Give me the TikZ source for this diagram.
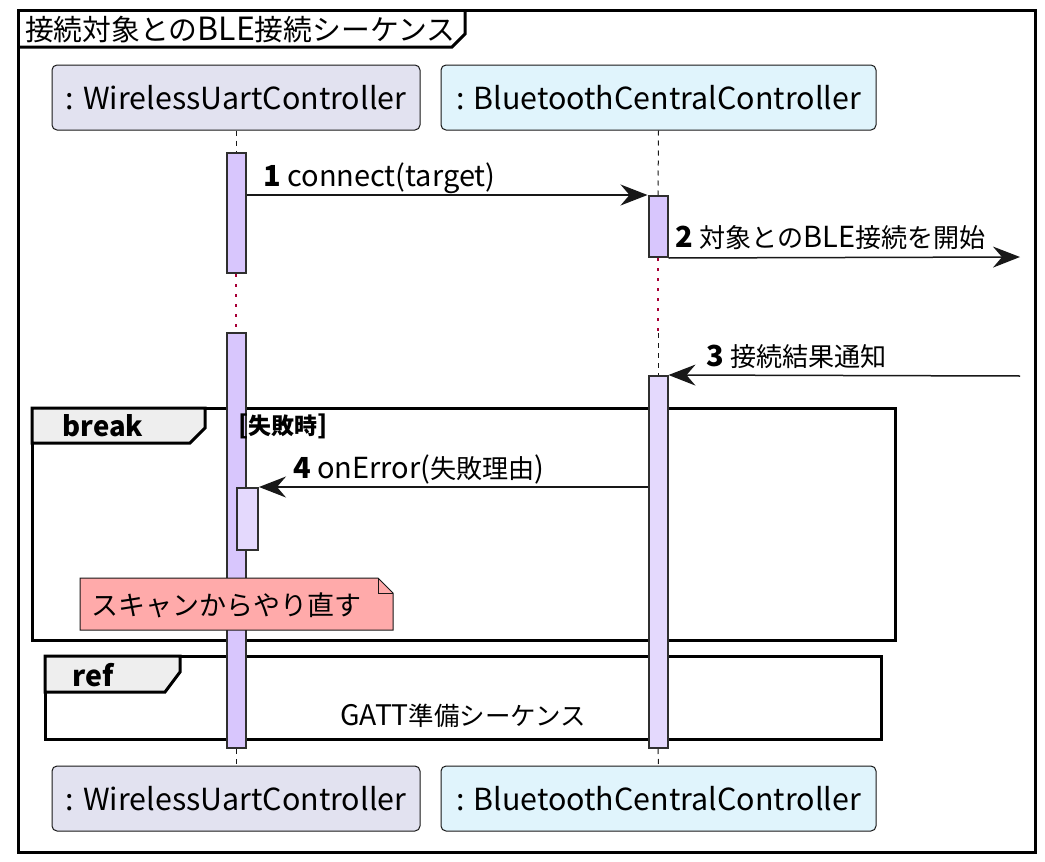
\documentclass[tikz,border=0pt]{standalone}
\usepackage{fontspec}
\setmainfont{Noto Sans CJK JP}
\newfontfamily\jpf[Scale=0.9]{Noto Sans CJK JP}
\newcommand\J[1]{{\jpf #1}}
\usetikzlibrary{arrows.meta}
\definecolor{pa}{HTML}{E2E2F0}
\definecolor{pb}{HTML}{E0F4FC}
\definecolor{actc}{HTML}{D8C6FD}
\definecolor{actl}{HTML}{E4D9FD}
\definecolor{notec}{HTML}{FFAAAA}
\definecolor{tabc}{HTML}{EEEEEE}
\definecolor{dotc}{HTML}{A80036}
\definecolor{ink}{HTML}{181818}
\begin{document}
\begin{tikzpicture}[x=1pt,y=-1pt,
 pbox/.style={draw=ink, line width=1pt, rounded corners=5pt, minimum height=65pt, inner sep=0pt, font=\fontsize{30.4}{36}\selectfont},
 act/.style={draw=ink!90, line width=2pt, minimum width=19pt, inner sep=0pt, fill=actc},
 msg/.style={line width=1.5pt, draw=ink, -{Stealth[length=27pt,width=21pt,inset=9pt]}},
 life/.style={draw=ink, line width=1pt, dash pattern=on 5pt off 5pt},
 dots/.style={draw=dotc, line width=2.5pt, dash pattern=on 2.5pt off 7.5pt},
 frame/.style={draw=black, line width=3pt},
 lbl/.style={font=\fontsize{29}{35}\selectfont, inner sep=0pt, anchor=base west}
]
\useasboundingbox (0,0) rectangle (1045,862);
\fill[white] (0,0) rectangle (1045,862);
% outer frame and title
\draw[frame] (18,10) rectangle (1035,852);
\draw[frame] (18,47) -- (452,47) -- (465,34) -- (465,10);
\node[font=\fontsize{32}{38}\selectfont, inner sep=0pt, anchor=base west] (title) at (25,40) {\J{接続対象との}BLE\J{接続シーケンス}};
% break frame
\draw[frame] (32,408) rectangle (895,640);
\filldraw[frame, fill=tabc] (32,408) -- (205,408) -- (205,428) -- (190,443) -- (32,443) -- cycle;
\node[font=\bfseries\fontsize{27.5}{33}\selectfont, inner sep=0pt] (brk) at (103,426) {break};
% ref frame
\draw[frame] (45,656) rectangle (881,739);
\filldraw[frame, fill=tabc] (45,656) -- (180,656) -- (180,672) -- (165,692) -- (45,692) -- cycle;
\node[font=\bfseries\fontsize{28.5}{34}\selectfont, inner sep=0pt] (reflbl) at (93,675) {ref};
\node[font=\fontsize{28.3}{34}\selectfont, inner sep=0pt] (reftxt) at (463,716) {GATT\J{準備シーケンス}};
% participants
\node[pbox, fill=pa, minimum width=368pt] (p1top) at (236,97.5) {: WirelessUartController};
\node[pbox, fill=pb, minimum width=435pt] (p2top) at (658.5,97.5) {: BluetoothCentralController};
\node[pbox, fill=pa, minimum width=368pt] (p1bot) at (236,798.5) {: WirelessUartController};
\node[pbox, fill=pb, minimum width=435pt] (p2bot) at (658.5,798.5) {: BluetoothCentralController};
% activations
\node[act, minimum height=120pt] (a1) at (236,213) {};
\node[act, minimum height=415pt] (a1b) at (236,540.5) {};
\node[act, minimum height=61pt] (a2) at (658,226.5) {};
\node[act, fill=actl, minimum height=372pt] (a3) at (658,562) {};
\node[act, fill=actl, minimum width=21pt, minimum height=62pt] (a4) at (247.5,519) {};
\coordinate (c2) at (658,333);
% lifelines
\draw[life] (p1top.south) -- (a1.north);
\draw[dots] (a1.south) -- (a1b.north);
\draw[life] (a1b.south) -- (p1bot.north);
\draw[life] (p2top.south) -- (a2.north);
\draw[dots] (a2.south) -- (c2);
\draw[life] (c2) -- (a3.north);
\draw[life] (a3.south) -- (p2bot.north);
% guard
\node[font=\bfseries\fontsize{25.5}{30}\selectfont, inner sep=0pt, anchor=west] (guard) at (238,426) {[\J{失敗時}]};
% messages
\coordinate (out2) at (1020,257);
\coordinate (in3) at (1020,376);
\draw[msg] (a1.east |- a2.north west) -- (a2.north west);
\draw[msg] (a2.south east) -- (out2);
\draw[msg] (in3) -- (a3.north east);
\draw[msg] (a3.west |- a4.north east) -- (a4.north east);
\node[lbl] (l1) at (263,186) {\textbf{1} connect(target)};
\node[lbl] (l2) at (675,247) {\textbf{2} \J{対象との}BLE\J{接続を開始}};
\node[lbl] (l3) at (706,366) {\textbf{3} \J{接続結果通知}};
\node[lbl] (l4) at (293,478) {\textbf{4} onError(\J{失敗理由})};
% note
\filldraw[draw=ink, line width=1pt, fill=notec] (80,578) -- (378,578) -- (393,593) -- (393,630) -- (80,630) -- cycle;
\draw[draw=ink, line width=1pt] (378,578) -- (378,593) -- (393,593);
\node[font=\fontsize{30}{36}\selectfont, inner sep=0pt, anchor=west] (note) at (91,605) {\J{スキャンからやり直す}};
\end{tikzpicture}
\end{document}
